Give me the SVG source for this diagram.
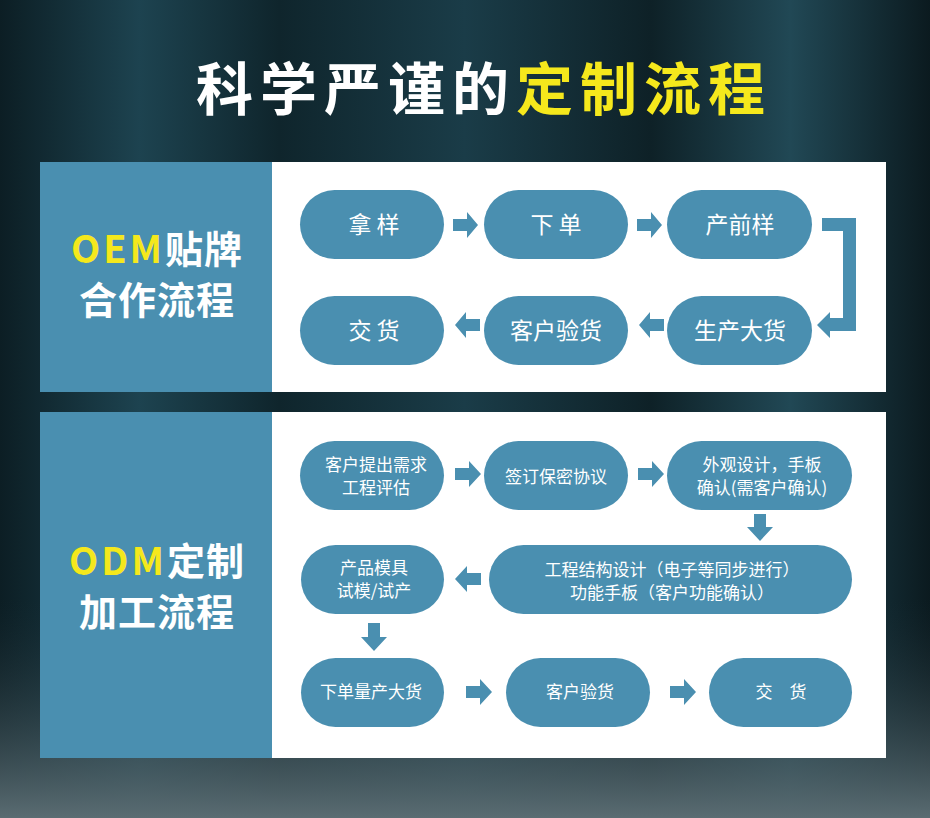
<svg xmlns="http://www.w3.org/2000/svg" width="930" height="818" viewBox="0 0 930 818">
<defs>
<linearGradient id="bg" x1="0" y1="0" x2="1" y2="0">
<stop offset="0" stop-color="#0c1e24"/><stop offset="0.15" stop-color="#1d4350"/><stop offset="0.3" stop-color="#0f252c"/><stop offset="0.5" stop-color="#1a3c48"/><stop offset="0.7" stop-color="#0e2127"/><stop offset="0.85" stop-color="#214855"/><stop offset="1" stop-color="#0b1a1f"/>
</linearGradient>
<linearGradient id="fl" x1="0" y1="0" x2="0" y2="1"><stop offset="0" stop-color="#1b2f36" stop-opacity="0"/><stop offset="1" stop-color="#5a6c72"/></linearGradient>
</defs>
<style>
.p{fill:#4a8fb0}
.t{fill:#fff;font-family:"Noto Sans CJK SC","Noto Sans",sans-serif;text-anchor:middle}
.b{font-size:23px}
.s{font-size:17px}
.y{fill:#f5e81c}
.a{fill:#4a8fb0}
</style>
<rect width="930" height="818" fill="url(#bg)"/>
<rect y="600" width="930" height="218" fill="url(#fl)"/>
<text x="484" y="110" class="t" font-size="57" font-weight="bold" letter-spacing="7">科学严谨的<tspan class="y">定制流程</tspan></text>

<g id="oem">
<rect x="40" y="162" width="232" height="230" class="p"/>
<rect x="272" y="162" width="614" height="230" fill="#fff"/>
<text x="157" y="263" class="t" font-size="38" font-weight="bold" letter-spacing="1"><tspan class="y" letter-spacing="3">OEM</tspan>贴牌</text>
<text x="157" y="314" class="t" font-size="38" font-weight="bold" letter-spacing="1">合作流程</text>
</g>
<g id="n1"><rect x="300" y="190" width="144" height="69" rx="34.5" class="p"/><text x="374" y="233" class="t b">拿 样</text></g>
<g id="n2"><rect x="484" y="190" width="144" height="69" rx="34.5" class="p"/><text x="556" y="233" class="t b">下 单</text></g>
<g id="n3"><rect x="667" y="190" width="145" height="69" rx="34.5" class="p"/><text x="740" y="233" class="t b">产前样</text></g>
<g id="n4"><rect x="667" y="296" width="145" height="69" rx="34.5" class="p"/><text x="740" y="339" class="t b">生产大货</text></g>
<g id="n5"><rect x="484" y="296" width="144" height="69" rx="34.5" class="p"/><text x="556" y="339" class="t b">客户验货</text></g>
<g id="n6"><rect x="300" y="296" width="144" height="69" rx="34.5" class="p"/><text x="374" y="339" class="t b">交 货</text></g>

<g id="odm">
<rect x="40" y="412" width="232" height="346" class="p"/>
<rect x="272" y="412" width="614" height="346" fill="#fff"/>
<text x="157" y="575" class="t" font-size="38" font-weight="bold" letter-spacing="1"><tspan class="y" letter-spacing="3">ODM</tspan>定制</text>
<text x="157" y="626" class="t" font-size="38" font-weight="bold" letter-spacing="1">加工流程</text>
</g>
<g id="d1"><rect x="300" y="441" width="144" height="69" rx="34.5" class="p"/><text x="376" y="471" class="t s">客户提出需求</text><text x="376" y="494" class="t s">工程评估</text></g>
<g id="d2"><rect x="484" y="441" width="144" height="69" rx="34.5" class="p"/><text x="556" y="483" class="t s">签订保密协议</text></g>
<g id="d3"><rect x="667" y="441" width="185" height="69" rx="34.5" class="p"/><text x="762" y="471" class="t s">外观设计，手板</text><text x="762" y="494" class="t s">确认(需客户确认)</text></g>
<g id="d4"><rect x="489" y="545" width="363" height="69" rx="34.5" class="p"/><text x="672" y="576" class="t s">工程结构设计（电子等同步进行）</text><text x="672" y="599" class="t s">功能手板（客户功能确认）</text></g>
<g id="d5"><rect x="301" y="545" width="143" height="69" rx="34.5" class="p"/><text x="374" y="574" class="t s">产品模具</text><text x="374" y="597" class="t s">试模/试产</text></g>
<g id="d6"><rect x="301" y="658" width="143" height="69" rx="34.5" class="p"/><text x="371" y="698" class="t s">下单量产大货</text></g>
<g id="d7"><rect x="506" y="658" width="144" height="69" rx="34.5" class="p"/><text x="580" y="698" class="t s">客户验货</text></g>
<g id="d8"><rect x="709" y="658" width="143" height="69" rx="34.5" class="p"/><text x="781" y="698" class="t s">交　货</text></g>

<g id="connectors" class="a">
<polygon points="453,219 467,219 467,212 478,225 467,238 467,231 453,231"/>
<polygon points="637,219 651,219 651,212 662,225 651,238 651,231 637,231"/>
<polygon points="822,218 856,218 856,331 830,331 830,338 817,325 830,312 830,318 843,318 843,231 822,231"/>
<polygon points="480,319 466,319 466,312 455,325 466,338 466,331 480,331"/>
<polygon points="664,319 650,319 650,312 639,325 650,338 650,331 664,331"/>
<polygon points="455,468 469,468 469,461 481,474 469,487 469,480 455,480"/>
<polygon points="638,468 652,468 652,461 664,474 652,487 652,480 638,480"/>
<polygon points="754,514 766,514 766,527 773,527 760,541 747,527 754,527"/>
<polygon points="481,573 467,573 467,566 455,579 467,592 467,585 481,585"/>
<polygon points="368,623 380,623 380,637 387,637 374,651 361,637 368,637"/>
<polygon points="466,686 480,686 480,679 492,692 480,705 480,698 466,698"/>
<polygon points="670,686 684,686 684,679 696,692 684,705 684,698 670,698"/>
</g>
</svg>
